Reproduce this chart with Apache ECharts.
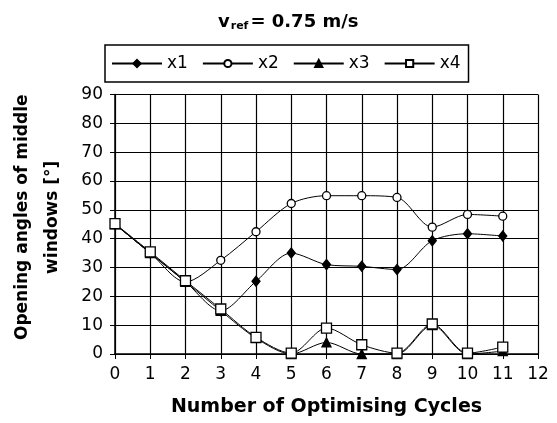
<!DOCTYPE html>
<html><head><meta charset="utf-8">
<script src="https://cdn.jsdelivr.net/npm/echarts@6/dist/echarts.min.js"></script>
<style>html,body{margin:0;padding:0;background:#fff}#c{width:557px;height:423px}</style>
</head><body><div id="c"></div>
<script>
const cycles = [0,1,2,3,4,5,6,7,8,9,10,11];
const x1 = [45,35,25,15,25.2,35,31,30.4,29.3,39.3,41.7,40.9];
const x2 = [45,35,25,32.5,42.4,52.2,54.9,54.9,54.3,44,48.4,47.8];
const x3 = [45,35,25,15,5.5,0,4,0,0,10,0,1];
const x4 = [45.2,35.4,25.4,15.6,5.8,0.3,9,3.2,0.3,10.4,0.3,2.4];
const seriesNames = ['x1','x2','x3','x4'];
const yTicks = [0,10,20,30,40,50,60,70,80,90];

const FONT = '"DejaVu Sans", "Liberation Sans", Arial, sans-serif';
const pairs = v => cycles.map((c,i)=>[c, v[i]]);
const styles = [
  {symbol:'diamond', size:[8,10], fill:'#000'},
  {symbol:'circle', size:8, fill:'#fff'},
  {symbol:'triangle', size:9, fill:'#000'},
  {symbol:'rect', size:10, fill:'#fff'}
];
const data = [x1,x2,x3,x4];

const chart = echarts.init(document.getElementById('c'), null, {renderer:'canvas'});
chart.setOption({
  animation:false,
  backgroundColor:'#fff',
  title:{
    text:'{v|v}{sub|ref}{v|= 0.75 m/s}',
    left:213, top:8,
    textStyle:{
      rich:{
        v:{fontFamily:FONT, fontWeight:'bold', fontSize:18, color:'#000'},
        sub:{fontFamily:FONT, fontWeight:'bold', fontSize:11, color:'#000', verticalAlign:'bottom', padding:[8,2,0,1]}
      }
    }
  },
  legend:{
    left:105, top:45,
    orient:'horizontal',
    data:seriesNames,
    borderColor:'#000', borderWidth:1.5,
    padding:[10,8,10,6],
    itemWidth:50, itemHeight:9, itemGap:14,
    textStyle:{fontFamily:FONT, fontSize:17, color:'#000'}
  },
  grid:{left:115, right:19, top:94.5, bottom:69},
  xAxis:{
    type:'value', min:0, max:12, interval:1,
    name:'Number of Optimising Cycles', nameLocation:'middle', nameGap:44,
    nameTextStyle:{fontFamily:FONT, fontWeight:'bold', fontSize:19, color:'#000'},
    axisLine:{lineStyle:{color:'#000', width:1.5}},
    axisTick:{show:true, inside:false, length:5, lineStyle:{color:'#000'}},
    axisLabel:{fontFamily:FONT, fontSize:17, color:'#000', margin:12},
    splitLine:{show:true, lineStyle:{color:'#000', width:1.2}}
  },
  yAxis:{
    type:'value', min:0, max:90, interval:10,
    name:'Opening angles of middle\nwindows [°]', nameLocation:'middle', nameGap:47,
    nameTextStyle:{fontFamily:FONT, fontWeight:'bold', fontSize:17, color:'#000', lineHeight:30, padding:[0,0,0,14]},
    axisLine:{show:true, lineStyle:{color:'#000', width:1.5}},
    axisTick:{show:true, inside:false, length:5, lineStyle:{color:'#000'}},
    axisLabel:{fontFamily:FONT, fontSize:17, color:'#000', margin:12,
      formatter: v => yTicks.includes(v) ? String(v) : ''},
    splitLine:{show:true, lineStyle:{color:'#000', width:1.2}}
  },
  series: seriesNames.map((n,i)=>({
    name:n, type:'line', data:pairs(data[i]),
    smooth:0.3,
    symbol:styles[i].symbol, symbolSize:styles[i].size,
    showAllSymbol:true,
    lineStyle:{color:'#000', width:1},
    itemStyle:{color:styles[i].fill, borderColor:'#000', borderWidth:1.3},
    z:2+i
  }))
});
</script></body></html>
